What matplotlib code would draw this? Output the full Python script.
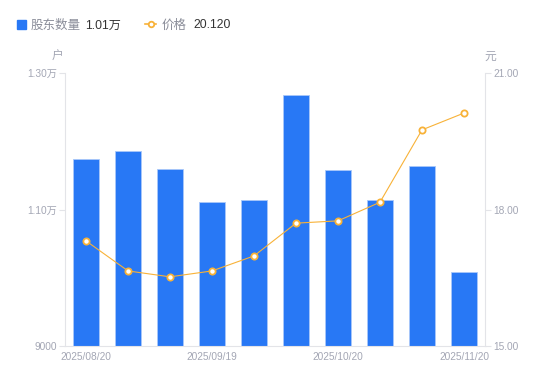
import matplotlib
matplotlib.use('Agg')
import matplotlib.pyplot as plt

plt.rcParams['font.family'] = ['Liberation Sans', 'Noto Sans CJK SC', 'DejaVu Sans']

# Data
dates = ['2025/08/20', '2025/08/31', '2025/09/10', '2025/09/19', '2025/09/30',
         '2025/10/10', '2025/10/20', '2025/10/31', '2025/11/10', '2025/11/20']
holders = [11740, 11857, 11593, 11110, 11139, 12678, 11579, 11139, 11637, 10084]
prices = [17.31, 16.65, 16.52, 16.65, 16.98, 17.70, 17.75, 18.16, 19.75, 20.12]
left_ticks = [9000, 11000, 13000]
left_labels = ['9000', '1.10万', '1.30万']
right_ticks = [15.0, 18.0, 21.0]

BLUE = '#2878F5'
ORANGE = '#F8B238'
GRAY = '#A3A6B4'
AXIS = '#E3E4E8'

fig = plt.figure(figsize=(5.5, 3.81), dpi=100)
ax = fig.add_axes([65 / 550, 1 - 346 / 381, 420 / 550, 273 / 381])
ax2 = ax.twinx()

x = list(range(len(dates)))
ax.bar(x, holders, width=0.6, color=BLUE, edgecolor='#A9C8FA', linewidth=0.6, zorder=2)
ax.set_ylim(9000, 13000)
ax.set_xlim(-0.5, len(dates) - 0.5)
ax.set_yticks(left_ticks)
ax.set_yticklabels(left_labels)
ax.set_xticks(x[::3])
ax.set_xticklabels(dates[::3])

ax2.plot(x, prices, color=ORANGE, linewidth=0.8, marker='o', markersize=4.5,
         markerfacecolor='white', markeredgecolor=ORANGE, markeredgewidth=1.3, zorder=3)
ax2.set_ylim(15, 21)
ax2.set_yticks(right_ticks)
ax2.set_yticklabels([f'{v:.2f}' for v in right_ticks])

for a in (ax, ax2):
    for s in a.spines.values():
        s.set_visible(False)
    a.tick_params(colors=GRAY, labelsize=7.3, length=4, width=0.8, color=AXIS)
ax.spines['left'].set_visible(True)
ax.spines['bottom'].set_visible(True)
ax2.spines['right'].set_visible(True)
for s in (ax.spines['left'], ax.spines['bottom'], ax2.spines['right']):
    s.set_color(AXIS)
    s.set_linewidth(0.8)
ax.tick_params(axis='x', length=0, pad=4)
ax.tick_params(axis='y', pad=2)
ax2.tick_params(axis='y', pad=2)

# unit labels
fig.text(58 / 550, 1 - 57 / 381, '户', color=GRAY, fontsize=8.5, ha='center', va='center')
fig.text(490 / 550, 1 - 57 / 381, '元', color=GRAY, fontsize=8.5, ha='center', va='center')

# legend
ly = 1 - 24 / 381
by = 1 - 28.5 / 381
fig.patches.append(plt.Rectangle((17 / 550, 1 - 28.5 / 381), 9 / 550, 9 / 381,
                                 transform=fig.transFigure, color=BLUE, figure=fig))
fig.text(31 / 550, by, '股东数量', color='#8A8D99', fontsize=9, va='baseline')
fig.text(85 / 550, by, '1.01万', color='#333333', fontsize=8.7, va='baseline')
fig.lines.append(plt.Line2D([145 / 550, 150.5 / 550, 156 / 550], [ly, ly, ly],
                            transform=fig.transFigure, color=ORANGE, linewidth=1.2,
                            marker='o', markersize=4, markevery=[1],
                            markerfacecolor='white', markeredgecolor=ORANGE,
                            markeredgewidth=1.3, figure=fig))
fig.text(162 / 550, by, '价格', color='#8A8D99', fontsize=9, va='baseline')
fig.text(193 / 550, by, '20.120', color='#333333', fontsize=8.7, va='baseline')

fig.savefig('out.png', dpi=100)
